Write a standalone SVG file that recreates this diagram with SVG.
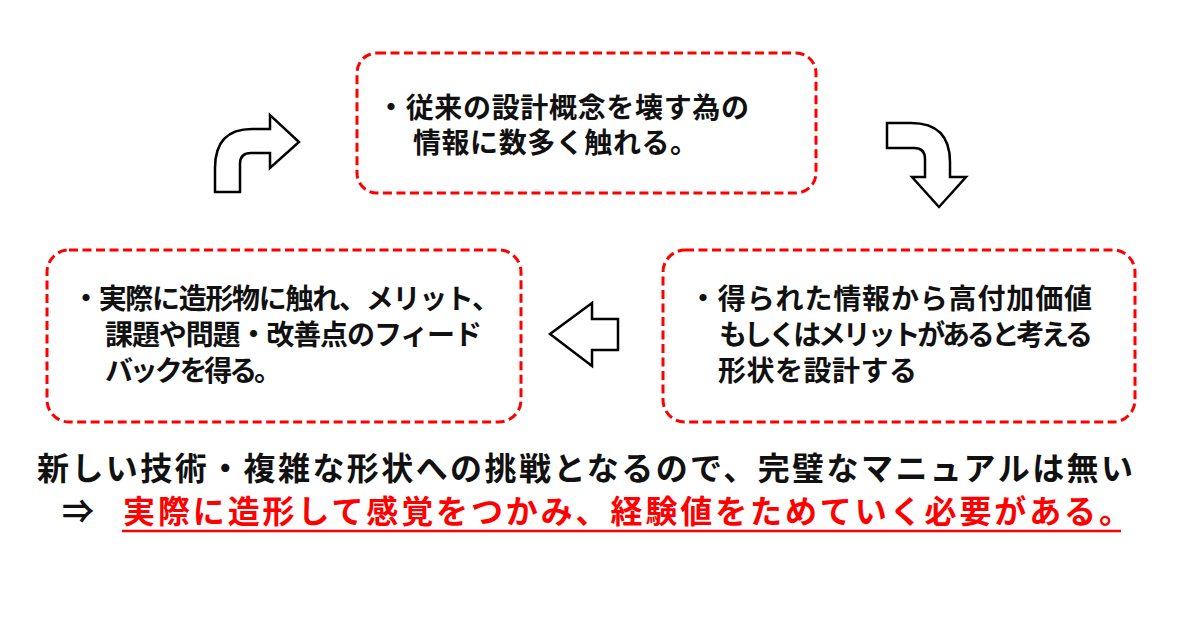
<svg xmlns="http://www.w3.org/2000/svg" width="1200" height="632" viewBox="0 0 1200 632">
<style>
.box{fill:#fff;stroke:#ff0000;stroke-width:3;stroke-dasharray:9 4.5}
.t{font-family:"Noto Sans CJK JP","Noto Sans CJK SC",sans-serif;font-weight:700;font-size:28px;fill:#111}
.b{font-size:32px}
.red{fill:#ff0000}
.arrow{fill:#fff;stroke:#000;stroke-width:2.5;stroke-linejoin:miter}
</style>
<rect width="1200" height="632" fill="#fff"/>
<g id="node-top">
<rect class="box" x="357" y="53" width="459" height="140" rx="20"/>
<text class="t" x="377" y="118" textLength="372" lengthAdjust="spacing">・従来の設計概念を壊す為の</text>
<text class="t" x="413" y="153" textLength="285" lengthAdjust="spacing">情報に数多く触れる。</text>
</g>
<g id="node-right">
<rect class="box" x="663" y="250" width="472" height="172" rx="22"/>
<text class="t" x="689" y="309" textLength="403" lengthAdjust="spacing">・得られた情報から高付加価値</text>
<text class="t" x="719" y="345" textLength="374" lengthAdjust="spacing">もしくはメリットがあると考える</text>
<text class="t" x="718" y="381" textLength="199" lengthAdjust="spacing">形状を設計する</text>
</g>
<g id="node-left">
<rect class="box" x="47" y="250" width="474" height="172" rx="22"/>
<text class="t" x="72" y="309" textLength="428" lengthAdjust="spacing">・実際に造形物に触れ、メリット、</text>
<text class="t" x="105" y="345" textLength="377" lengthAdjust="spacing">課題や問題・改善点のフィード</text>
<text class="t" x="105" y="381" textLength="177" lengthAdjust="spacing">バックを得る。</text>
</g>
<g id="connectors">
<path class="arrow" d="M215,192 L215,168 Q215,129 252,129 L270,129 L270,115 L299,142 L270,168 L270,153 L251,153 Q240,153 240,164 L240,192 Z"/>
<path class="arrow" d="M887,123 L911,123 Q950,123 950,162 L950,177 L966,177 L939,207 L912,177 L925,177 L925,159 Q925,148 914,148 L887,148 Z"/>
<path class="arrow" d="M550,334 L592,303 L592,319 L618,319 L618,350 L592,350 L592,366 Z"/>
</g>
<g id="conclusion">
<text class="t b" x="37" y="480" textLength="1096" lengthAdjust="spacing">新しい技術・複雑な形状への挑戦となるので、完璧なマニュアルは無い</text>
<text class="t b" x="78" y="523" text-anchor="middle">⇒</text>
<text class="t b red" x="123" y="523" textLength="1008" lengthAdjust="spacing">実際に造形して感覚をつかみ、経験値をためていく必要がある。</text>
<line x1="122" y1="531" x2="1121" y2="531" stroke="#ff0000" stroke-width="2.5"/>
</g>
</svg>
